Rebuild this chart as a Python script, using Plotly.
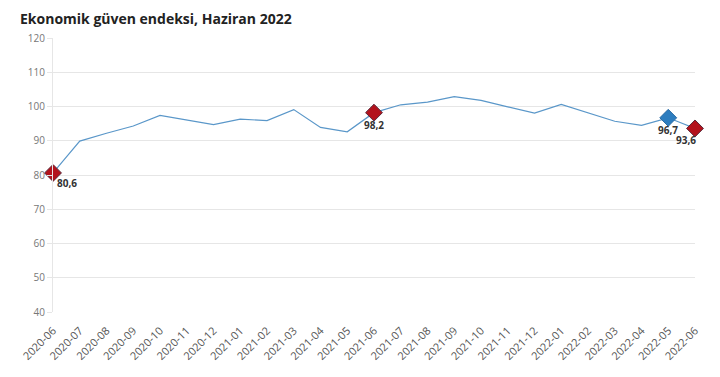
import plotly.graph_objects as go

months = ["2020-06","2020-07","2020-08","2020-09","2020-10","2020-11","2020-12",
          "2021-01","2021-02","2021-03","2021-04","2021-05","2021-06","2021-07",
          "2021-08","2021-09","2021-10","2021-11","2021-12","2022-01","2022-02",
          "2022-03","2022-04","2022-05","2022-06"]
values = [80.6, 89.9, 92.2, 94.3, 97.4, 96.0, 94.7, 96.3, 95.9, 99.1, 93.9, 92.6,
          98.2, 100.5, 101.3, 102.9, 101.8, 99.9, 98.1, 100.6, 98.1, 95.7, 94.5,
          96.7, 93.6]

red_months = ["2020-06", "2021-06", "2022-06"]
red_values = [80.6, 98.2, 93.6]
red_labels = ["80,6", "98,2", "93,6"]
blue_months = ["2022-05"]
blue_values = [96.7]
blue_labels = ["96,7"]
y_ticks = [40, 50, 60, 70, 80, 90, 100, 110, 120]

# page body has an 8px default margin; compensate in layout
OFF = 8

fig = go.Figure()
fig.add_trace(go.Scatter(x=months, y=values, mode="lines",
                         line=dict(color="#5a97c9", width=1.2),
                         hoverinfo="skip", cliponaxis=False))
fig.add_trace(go.Scatter(x=red_months, y=red_values, mode="markers",
                         marker=dict(symbol="diamond", size=13, color="#b3121c",
                                     line=dict(color="#5a2a3a", width=1)),
                         cliponaxis=False))
fig.add_trace(go.Scatter(x=blue_months, y=blue_values, mode="markers",
                         marker=dict(symbol="diamond", size=13, color="#2d7dbf",
                                     line=dict(color="#2d6da5", width=1)),
                         cliponaxis=False))

label_shifts = {"2020-06": (14, -10), "2021-06": (0, -12),
                "2022-05": (0, -12), "2022-06": (-9, -12)}
for m, v, t in list(zip(red_months, red_values, red_labels)) + \
        list(zip(blue_months, blue_values, blue_labels)):
    dx, dy = label_shifts[m]
    fig.add_annotation(x=m, y=v, text="<b>" + t + "</b>", showarrow=False,
                       xanchor="center", yanchor="middle", xshift=dx, yshift=dy,
                       font=dict(size=10, color="#333333", family="Open Sans"))

fig.update_layout(
    width=720, height=377,
    margin=dict(l=53 - OFF, r=25 + OFF, t=38 - OFF, b=65 + OFF, autoexpand=False),
    paper_bgcolor="white", plot_bgcolor="white",
    showlegend=False,
    font=dict(family="Open Sans", color="#555555"),
    title=dict(text="<b>Ekonomik güven endeksi, Haziran 2022</b>",
               x=(20 - OFF) / 720, xref="container", xanchor="left",
               y=1 - (19 - OFF) / 377, yanchor="middle", pad=dict(l=0, t=0, b=0, r=0),
               font=dict(size=14, color="#222222", family="Open Sans")),
    xaxis=dict(type="category", categoryorder="array", categoryarray=months,
               range=[0, len(months) - 1], tickangle=-45, showgrid=False,
               ticks="outside", ticklen=7, tickcolor="rgba(0,0,0,0)",
               tickfont=dict(size=11, color="#555555"),
               showline=False, zeroline=False, automargin=False),
    yaxis=dict(range=[40, 120], tickvals=y_ticks, showgrid=True,
               gridcolor="#e6e6e6", gridwidth=1, zeroline=False,
               showline=True, linecolor="#e6e6e6", ticks="outside",
               ticklen=5, tickcolor="#e6e6e6", automargin=False,
               tickfont=dict(size=10, color="#777777")),
)

fig.write_html("out.html")
